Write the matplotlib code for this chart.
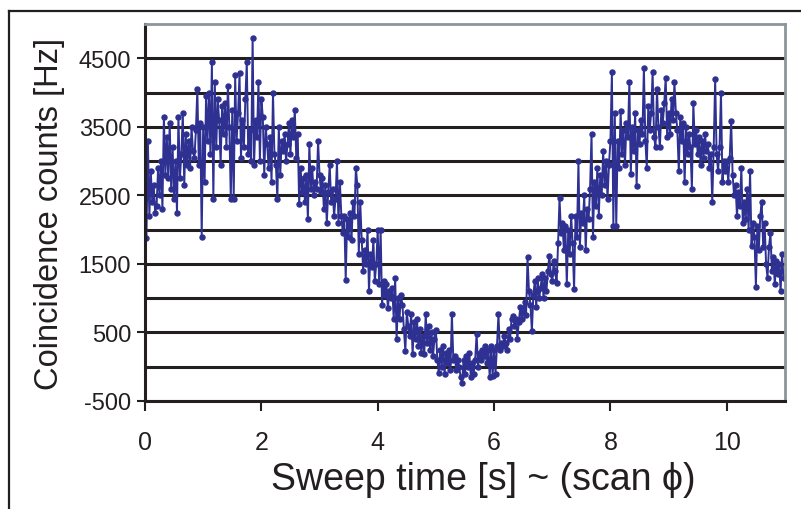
import numpy as np
import matplotlib
matplotlib.use('Agg')
import matplotlib.pyplot as plt
from matplotlib.lines import Line2D

OUT_PNG = 'out.png'

counts_0_1 = [2450, 1880, 3300, 2200, 2850, 2400, 2650, 2250, 2350, 2900,
              2500, 3000, 2300, 3650, 2800, 3350, 2750, 3550, 2600, 3200,
              2450, 3000, 2250, 3650, 2750, 3100, 3700, 2650, 3400, 2950,
              3300, 2900, 3500, 3150, 3050, 3450, 4050, 2950, 3550, 1900]
counts_1_2 = [3500, 2700, 3950, 3300, 4000, 3100, 4450, 2450, 4150, 3200,
              3900, 3600, 2950, 3800, 3400, 3850, 3200, 4100, 3500, 2450,
              3750, 2450, 4250, 3300, 3700, 4280, 3050, 3600, 3200, 3900,
              4450, 3100, 3450, 3000, 4800, 2950, 3600, 3350, 4150, 3000]
counts_2_3 = [3900, 3650, 2800, 3500, 3250, 2900, 3350, 2700, 4000, 3100,
              2950, 2450, 3500, 2800, 3300, 3150, 3400, 3000, 3250, 3550,
              3100, 3600, 3350, 3750, 3050, 3400, 2370, 2900, 2550, 2750,
              2400, 2800, 2150, 3250, 2600, 2900, 2500, 2700, 2600, 3300]
counts_3_4 = [2800, 2550, 2750, 2300, 2650, 2100, 2550, 2950, 2400, 2600,
              2200, 2450, 3000, 2100, 2700, 2200, 1950, 2200, 1270, 2150,
              1900, 2250, 1850, 2400, 2200, 2900, 2650, 1650, 2400, 1850,
              1400, 1700, 1500, 2000, 1100, 1650, 1450, 1850, 1250, 1500]
counts_4_5 = [2000, 1200, 2000, 900, 1250, 1050, 1200, 850, 1100, 1000,
              1150, 700, 1300, 400, 1000, 700, 1050, 900, 550, 230,
              800, 600, 450, 770, 180, 650, 400, 700, 300, 550,
              200, 450, 180, 770, 350, 600, 250, 500, 150, 400]
counts_5_6 = [540, 100, -90, 250, 0, 300, -100, 200, 50, 250,
              -50, 770, 100, 150, -50, 100, 0, -150, -240, 100,
              -100, 150, 0, 200, -150, 50, -100, 100, 480, 0,
              200, 100, 250, 150, 300, 50, 250, -150, 300, -140]
counts_6_7 = [250, -100, 300, 770, 250, 350, 300, 450, 350, 250,
              550, 400, 700, 735, 600, 700, 410, 650, 870, 700,
              800, 950, 750, 1600, 1100, 900, 520, 1050, 1250, 870,
              1300, 1000, 1150, 1350, 1000, 1300, 1100, 1400, 1620, 1350]
counts_7_8 = [1250, 1550, 1400, 1220, 1800, 2460, 1950, 2100, 1700, 2050,
              1200, 2000, 1650, 2200, 1800, 1130, 2200, 1900, 3000, 1750,
              2250, 2100, 2500, 1700, 2300, 2150, 2600, 3400, 1900, 2700,
              2350, 2900, 2200, 2800, 2500, 3150, 2650, 3000, 2450, 2950]
counts_8_9 = [3300, 4300, 2060, 3700, 2050, 3300, 2900, 3730, 3100, 3450,
              2950, 3550, 3350, 4160, 2810, 3500, 3150, 3700, 2640, 3450,
              3250, 3600, 3400, 4360, 3300, 2900, 3800, 3450, 3700, 4300,
              3350, 3200, 4050, 3500, 3200, 3750, 3550, 3850, 4220, 3350]
counts_9_10 = [3700, 3400, 3900, 3600, 4150, 3700, 3450, 2850, 3650, 3300,
               3550, 2690, 3500, 3100, 3400, 3200, 2590, 3850, 3250, 3450,
               3100, 3350, 2950, 3300, 3050, 3400, 3150, 3250, 2900, 3100,
               2400, 3200, 4200, 3100, 2850, 3200, 4000, 2700, 3000, 2850]
counts_10_11 = [3000, 2700, 3050, 3590, 2800, 2500, 2650, 2200, 2550, 2350,
                2900, 2100, 2400, 2150, 2600, 2000, 2850, 1760, 2100, 1900,
                1170, 2050, 1700, 2200, 2400, 1750, 2100, 1500, 1300, 1750,
                1950, 1400, 1600, 1200, 1550, 1350, 1500, 1100, 1640, 1300,
                1300]

counts = (counts_0_1 + counts_1_2 + counts_2_3 + counts_3_4 + counts_4_5 + counts_5_6
          + counts_6_7 + counts_7_8 + counts_8_9 + counts_9_10 + counts_10_11)
sweep_time = np.linspace(0, 11, len(counts))

y_labelled = [-500, 500, 1500, 2500, 3500, 4500]
y_grid = [0, 1000, 2000, 3000, 4000]
x_ticks = [0, 2, 4, 6, 8, 10]

LINE_COLOR = '#2e3192'
INK = '#231f20'
FONT = ['Liberation Sans', 'DejaVu Sans']


def plot_graph():
    plt.rcParams['font.family'] = FONT
    plt.rcParams['axes.unicode_minus'] = False
    fig = plt.figure(figsize=(8.01, 5.10), dpi=100)
    ax = fig.add_axes([0.181, 0.2118, 0.799, 0.739])

    ax.set_xlim(0, 11)
    ax.set_ylim(-500, 5000)

    ax.set_yticks(y_labelled)
    ax.set_yticks(y_grid, minor=True)
    ax.set_xticks(x_ticks)
    ax.tick_params(axis='y', which='major', direction='out', length=6, width=1.5,
                   labelsize=17, pad=4, colors=INK)
    ax.tick_params(axis='y', which='minor', length=0)
    ax.tick_params(axis='x', direction='out', length=7, width=1.5,
                   labelsize=18, pad=14, colors=INK)

    ax.grid(True, axis='y', which='both', color=INK, linewidth=2.2)
    ax.set_axisbelow(True)

    for side in ['left', 'bottom']:
        ax.spines[side].set_color(INK)
        ax.spines[side].set_linewidth(2.2)
    for side in ['top', 'right']:
        ax.spines[side].set_color('#8c959a')
        ax.spines[side].set_linewidth(2.0)

    ax.plot(sweep_time, counts, color=LINE_COLOR, linewidth=1.4,
            marker='o', markersize=3.6, clip_on=True)

    ax.set_ylabel('Coincidence counts [Hz]', fontsize=23.5, color=INK, labelpad=10)
    fig.text(0.604, 0.04, 'Sweep time [s] ~ (scan ϕ)', fontsize=27, color=INK,
             ha='center', va='baseline')

    # outer frame lines (top and left)
    fig.add_artist(Line2D([0.011, 1.0], [0.977, 0.977], color=INK, linewidth=1.6))
    fig.add_artist(Line2D([0.011, 0.011], [0.0, 0.977], color=INK, linewidth=1.6))

    plt.savefig(OUT_PNG, dpi=100)


if __name__ == '__main__':
    plot_graph()
